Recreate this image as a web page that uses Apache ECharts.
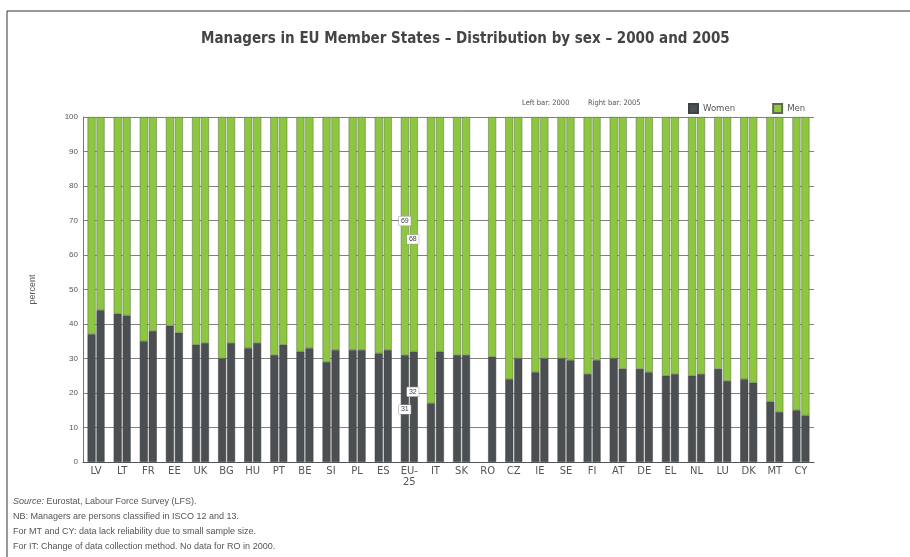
<!DOCTYPE html>
<html>
<head>
<meta charset="utf-8">
<script src="https://cdn.jsdelivr.net/npm/echarts@6/dist/echarts.min.js"></script>
<style>
html, body { margin: 0; padding: 0; background: #fff; }
#chart { width: 910px; height: 557px; }
</style>
</head>
<body>
<div id="chart"></div>
<script>
var countries = ['LV', 'LT', 'FR', 'EE', 'UK', 'BG', 'HU', 'PT', 'BE', 'SI', 'PL', 'ES', 'EU-\n25', 'IT', 'SK', 'RO', 'CZ', 'IE', 'SE', 'FI', 'AT', 'DE', 'EL', 'NL', 'LU', 'DK', 'MT', 'CY'];
var women2000 = [37, 43, 35, 39.5, 34, 30, 33, 31, 32, 29, 32.5, 31.5, 31, 17, 31, null, 24, 26, 30, 25.5, 30, 27, 25, 25, 27, 24, 17.5, 15];
var men2000   = [63, 57, 65, 60.5, 66, 70, 67, 69, 68, 71, 67.5, 68.5, 69, 83, 69, null, 76, 74, 70, 74.5, 70, 73, 75, 75, 73, 76, 82.5, 85];
var women2005 = [44, 42.5, 38, 37.5, 34.5, 34.5, 34.5, 34, 33, 32.5, 32.5, 32.5, 32, 32, 31, 30.5, 30, 30, 29.5, 29.5, 27, 26, 25.5, 25.5, 23.5, 23, 14.5, 13.5];
var men2005   = [56, 57.5, 62, 62.5, 65.5, 65.5, 65.5, 66, 67, 67.5, 67.5, 67.5, 68, 68, 69, 69.5, 70, 70, 70.5, 70.5, 73, 74, 74.5, 74.5, 76.5, 77, 85.5, 86.5];
var yTicks = [0, 10, 20, 30, 40, 50, 60, 70, 80, 90, 100];

var darkColor = '#4b4f51',
    greenColor = '#8dc63f',
    textColor = '#555',
    smallFont = 'Liberation Sans';

var tagLabel = function (offset) {
    return {
        show: true,
        position: 'inside',
        offset: offset,
        formatter: '{c}',
        fontSize: 7,
        color: '#444',
        backgroundColor: '#fff',
        borderColor: '#999',
        borderWidth: 0.5,
        padding: [1, 2]
    };
};

// EU-25 gets the boxed value tags
var euIdx = 12;
var withTag = function (arr, offset) {
    return arr.map(function (v, i) {
        if (i === euIdx) return { value: v, label: tagLabel(offset) };
        return v;
    });
};

var chart = echarts.init(document.getElementById('chart'));
var option = {
    animation: false,
    title: {
        text: 'Managers in EU Member States \u2013 Distribution by sex \u2013 2000 and 2005',
        left: 196,
        top: 27,
        textStyle: {
            fontFamily: 'DejaVu Sans Condensed',
            fontSize: 15,
            fontWeight: 'bold',
            color: '#444'
        }
    },
    legend: {
        data: ['Women', 'Men'],
        left: 683,
        top: 98,
        itemWidth: 9,
        itemHeight: 9,
        itemGap: 37,
        icon: 'rect',
        textStyle: { fontSize: 9.5, color: textColor, fontFamily: 'DejaVu Sans Condensed' }
    },
    grid: {
        top: 117,
        bottom: 95,
        left: 83,
        right: 96
    },
    xAxis: [{
        type: 'category',
        data: countries,
        axisTick: { show: false },
        axisLine: { lineStyle: { color: '#555' } },
        axisLabel: {
            color: textColor,
            fontSize: 10,
            margin: 4,
            lineHeight: 11,
            interval: 0,
            fontFamily: 'DejaVu Sans'
        }
    }],
    yAxis: [{
        type: 'value',
        min: 0,
        max: 100,
        interval: 10,
        name: 'percent',
        nameLocation: 'middle',
        nameGap: 46,
        nameTextStyle: { fontSize: 9, color: textColor },
        axisLine: { show: true, lineStyle: { color: '#777' } },
        axisTick: { show: false },
        axisLabel: {
            color: textColor,
            fontSize: 8,
            margin: 5,
            formatter: function (v) { return yTicks.indexOf(v) >= 0 ? v : ''; }
        },
        splitLine: { lineStyle: { color: '#808080', width: 1 } }
    }],
    series: [{
        name: 'Women',
        type: 'bar',
        stack: 'y2000',
        barWidth: 8,
        barGap: '12%',
        itemStyle: { color: darkColor, borderColor: '#3e4244', borderWidth: 0.5 },
        data: withTag(women2000, [0, 1])
    }, {
        name: 'Men',
        type: 'bar',
        stack: 'y2000',
        itemStyle: { color: greenColor, borderColor: '#5d6a4c', borderWidth: 0.5 },
        data: withTag(men2000, [0, -15])
    }, {
        name: 'Women',
        type: 'bar',
        stack: 'y2005',
        barWidth: 8,
        barGap: '12%',
        itemStyle: { color: darkColor, borderColor: '#3e4244', borderWidth: 0.5 },
        data: withTag(women2005, [-1, -15])
    }, {
        name: 'Men',
        type: 'bar',
        stack: 'y2005',
        itemStyle: { color: greenColor, borderColor: '#5d6a4c', borderWidth: 0.5 },
        data: withTag(men2005, [-1, 5])
    }],
    graphic: [{
        type: 'line',
        shape: { x1: 7, y1: 11, x2: 910, y2: 11 },
        style: { stroke: '#333', lineWidth: 1 }
    }, {
        type: 'line',
        shape: { x1: 7, y1: 11, x2: 7, y2: 557 },
        style: { stroke: '#333', lineWidth: 1 }
    }, {
        type: 'text',
        left: 522,
        top: 99,
        style: { text: 'Left bar: 2000', fontSize: 7.5, fill: textColor, fontFamily: 'DejaVu Sans Condensed' }
    }, {
        type: 'text',
        left: 588,
        top: 99,
        style: { text: 'Right bar: 2005', fontSize: 7.5, fill: textColor, fontFamily: 'DejaVu Sans Condensed' }
    }, {
        type: 'text',
        left: 13,
        top: 494,
        style: {
            text: '{i|Source:} Eurostat, Labour Force Survey (LFS).\nNB: Managers are persons classified in ISCO 12 and 13.\nFor MT and CY: data lack reliability due to small sample size.\nFor IT: Change of data collection method. No data for RO in 2000.',
            fontSize: 9,
            lineHeight: 15,
            fill: textColor,
            fontFamily: smallFont,
            rich: { i: { fontStyle: 'italic', fontSize: 9, fill: textColor, fontFamily: smallFont } }
        }
    }]
};
chart.setOption(option);
</script>
</body>
</html>
